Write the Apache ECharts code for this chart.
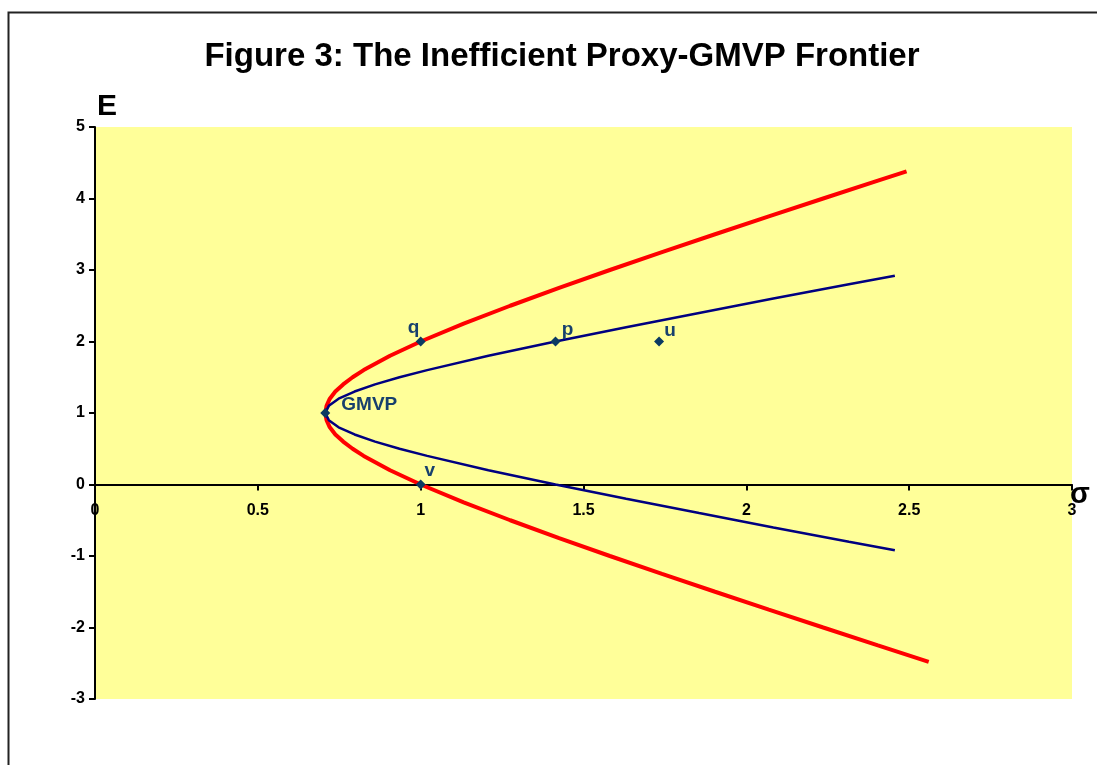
<!DOCTYPE html>
<html>
<head>
<meta charset="utf-8">
<script src="https://cdn.jsdelivr.net/npm/echarts@6/dist/echarts.min.js"></script>
<style>html,body{margin:0;padding:0;background:#fff;}#c{width:1097px;height:765px;}</style>
</head>
<body>
<div id="c"></div>
<script>
// Frontier (red): [sigma, E]
var redFrontier = [
  [2.492, 4.38], [2.404, 4.25], [2.236, 4.0], [2.069, 3.75], [1.904, 3.5],
  [1.741, 3.25], [1.581, 3.0], [1.425, 2.75], [1.275, 2.5], [1.132, 2.25],
  [1.0, 2.0], [0.906, 1.8], [0.825, 1.6], [0.791, 1.5], [0.762, 1.4],
  [0.738, 1.3], [0.721, 1.2], [0.711, 1.1], [0.707, 1.0], [0.711, 0.9],
  [0.721, 0.8], [0.738, 0.7], [0.762, 0.6], [0.791, 0.5], [0.825, 0.4],
  [0.906, 0.2], [1.0, 0.0], [1.132, -0.25], [1.275, -0.5], [1.425, -0.75],
  [1.581, -1.0], [1.741, -1.25], [1.904, -1.5], [2.069, -1.75], [2.236, -2.0],
  [2.404, -2.25], [2.560, -2.48]
];
// Proxy frontier (blue): [sigma, E]
var blueFrontier = [
  [2.456, 2.92], [2.315, 2.8], [2.083, 2.6], [1.855, 2.4], [1.631, 2.2],
  [1.414, 2.0], [1.208, 1.8], [1.020, 1.6], [0.935, 1.5], [0.860, 1.4],
  [0.797, 1.3], [0.748, 1.2], [0.718, 1.1], [0.707, 1.0], [0.718, 0.9],
  [0.748, 0.8], [0.797, 0.7], [0.860, 0.6], [0.935, 0.5], [1.020, 0.4],
  [1.208, 0.2], [1.414, 0.0], [1.631, -0.2], [1.855, -0.4], [2.083, -0.6],
  [2.315, -0.8], [2.456, -0.92]
];
// Named points
var pointNames = ['GMVP', 'q', 'p', 'u', 'v'];
var pointSigma = [0.707, 1.0, 1.414, 1.732, 1.0];
var pointE = [1.0, 2.0, 2.0, 2.0, 0.0];
// Axis ticks
var xTicks = [0, 0.5, 1, 1.5, 2, 2.5, 3];
var yTicks = [-3, -2, -1, 0, 1, 2, 3, 4, 5];

var FONT = 'Liberation Sans, Arial, sans-serif';
var labelOffsets = {
  'GMVP': [44, -8],
  'q': [-7, -14],
  'p': [12, -12],
  'u': [11, -11],
  'v': [9, -14]
};
var labelColor = '#17406D';

var pointData = pointNames.map(function (n, i) {
  return {
    name: n,
    value: [pointSigma[i], pointE[i]],
    label: {
      show: true,
      formatter: n,
      position: 'inside',
      offset: labelOffsets[n],
      color: labelColor,
      fontFamily: FONT,
      fontWeight: 'bold',
      fontSize: 19
    }
  };
});

// grid geometry (pixels)
var gridTop = 127, gridBottom = 66, chartH = 765;
var plotH = chartH - gridTop - gridBottom;
var zeroFromBottom = plotH * (0 - yTicks[0]) / (yTicks[yTicks.length - 1] - yTicks[0]);

var chart = echarts.init(document.getElementById('c'), null, {renderer: 'canvas'});
var tickFont = {fontFamily: FONT, fontWeight: 'bold', fontSize: 16, color: '#000'};

chart.setOption({
  animation: false,
  backgroundColor: '#ffffff',
  title: {
    text: 'Figure 3: The Inefficient Proxy-GMVP Frontier',
    left: 557,
    textAlign: 'center',
    top: 35,
    textStyle: {fontFamily: FONT, fontWeight: 'bold', fontSize: 33, color: '#000'}
  },
  grid: {left: 95, right: 25, top: gridTop, bottom: gridBottom, show: true, backgroundColor: '#FFFF99', borderWidth: 0},
  graphic: [
    {type: 'rect', left: 6, top: 10, shape: {x: 0, y: 0, width: 1200, height: 900}, style: {fill: 'none', stroke: '#222', lineWidth: 2}, silent: true, z: 0},
    {type: 'text', left: 97, top: 92, style: {text: 'E', fontFamily: FONT, fontWeight: 'bold', fontSize: 30, fill: '#000'}},
    {type: 'text', left: 1070, top: 480, style: {text: 'σ', fontFamily: FONT, fontWeight: 'bold', fontSize: 29, fill: '#000'}}
  ],
  xAxis: {
    type: 'value',
    min: xTicks[0],
    max: xTicks[xTicks.length - 1],
    interval: 0.5,
    offset: -zeroFromBottom,
    axisLine: {show: true, onZero: false, lineStyle: {color: '#000', width: 2}},
    axisTick: {show: true, inside: false, length: 6, lineStyle: {color: '#000', width: 2}},
    axisLabel: Object.assign({margin: 18, formatter: function (v) { return String(v); }}, tickFont),
    splitLine: {show: false}
  },
  yAxis: {
    type: 'value',
    min: yTicks[0],
    max: yTicks[yTicks.length - 1],
    interval: 1,
    axisLine: {show: true, onZero: false, lineStyle: {color: '#000', width: 2}},
    axisTick: {show: true, inside: false, length: 6, lineStyle: {color: '#000', width: 2}},
    axisLabel: Object.assign({margin: 10}, tickFont),
    splitLine: {show: false}
  },
  series: [
    {
      type: 'line', name: 'Frontier', data: redFrontier, showSymbol: false,
      lineStyle: {color: '#FF0000', width: 4}, z: 3
    },
    {
      type: 'line', name: 'Proxy frontier', data: blueFrontier, showSymbol: false,
      lineStyle: {color: '#000080', width: 2.5}, z: 4
    },
    {
      type: 'scatter', name: 'Points', data: pointData, symbol: 'diamond', symbolSize: 10,
      itemStyle: {color: '#0B3A62', opacity: 1}, z: 5
    }
  ]
});
</script>
</body>
</html>
